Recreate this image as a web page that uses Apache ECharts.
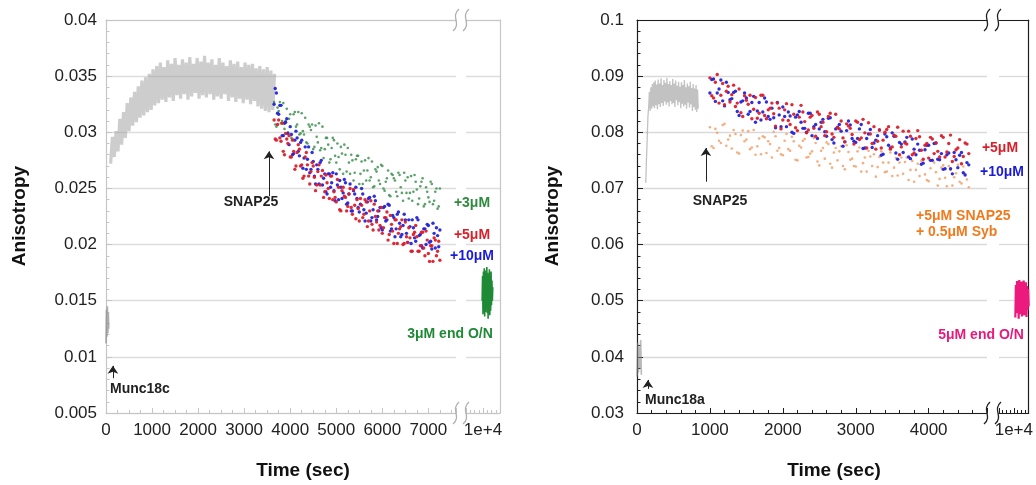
<!DOCTYPE html>
<html>
<head>
<meta charset="utf-8">
<script src="https://cdn.jsdelivr.net/npm/echarts@6/dist/echarts.min.js"></script>
<style>
html,body{margin:0;padding:0;background:#fff;}
#c{width:1036px;height:485px;}
</style>
</head>
<body>
<div id="c"></div>
<script>
// ---------------- DATA ----------------
// Left panel (Munc18c)
const tMuncL = [0,10,20,30,40,50,60];
const vMuncL = [0.0112,0.0142,0.0118,0.0145,0.0121,0.0139,0.0125];

const tGrayL = [100,140,180,220,260,300,340,380,420,460,500,540,580,620,660,700,740,780,820,860,900,940,980,1020,1060,1100,1140,1180,1220,1260,1300,1340,1380,1420,1460,1500,1540,1580,1620,1660,1700,1740,1780,1820,1860,1900,1940,1980,2020,2060,2100,2140,2180,2220,2260,2300,2340,2380,2420,2460,2500,2540,2580,2620,2660,2700,2740,2780,2820,2860,2900,2940,2980,3020,3060,3100,3140,3180,3220,3260,3300,3340,3380,3420,3460,3500,3540,3580,3620,3660];
const vGrayL = [0.0272,0.0296,0.0278,0.0301,0.0283,0.0312,0.0289,0.0318,0.0295,0.0326,
0.0301,0.0331,0.0306,0.0336,0.0309,0.0341,0.0313,0.0346,0.0315,0.0349,
0.0318,0.0352,0.0320,0.0356,0.0324,0.0359,0.0326,0.0362,0.0329,0.0358,
0.0327,0.0364,0.0331,0.0361,0.0328,0.0366,0.0333,0.0360,0.0330,0.0365,
0.0334,0.0362,0.0329,0.0367,0.0332,0.0361,0.0335,0.0366,0.0330,0.0363,
0.0333,0.0368,0.0331,0.0362,0.0334,0.0365,0.0329,0.0360,0.0332,0.0366,
0.0330,0.0362,0.0334,0.0359,0.0328,0.0364,0.0331,0.0361,0.0327,0.0363,
0.0330,0.0358,0.0326,0.0362,0.0329,0.0360,0.0325,0.0361,0.0328,0.0357,
0.0323,0.0359,0.0321,0.0356,0.0319,0.0358,0.0318,0.0355,0.0320,0.0352];

const tScatL = [3650,3700,3750,3800,3850,3900,3950,4000,4050,4100,4150,4200,4250,4300,4350,4400,4450,4500,4550,4600,4650,4700,4750,4800,4850,4900,4950,5000,5050,5100,5150,5200,5250,5300,5350,5400,5450,5500,5550,5600,5650,5700,5750,5800,5850,5900,5950,6000,6050,6100,6150,6200,6250,6300,6350,6400,6450,6500,6550,6600,6650,6700,6750,6800,6850,6900,6950,7000,7050,7100,7150,7200,7250];
const tScatL2 = [3675,3725,3775,3825,3875,3925,3975,4025,4075,4125,4175,4225,4275,4325,4375,4425,4475,4525,4575,4625,4675,4725,4775,4825,4875,4925,4975,5025,5075,5125,5175,5225,5275,5325,5375,5425,5475,5525,5575,5625,5675,5725,5775,5825,5875,5925,5975,6025,6075,6125,6175,6225,6275,6325,6375,6425,6475,6525,6575,6625,6675,6725,6775,6825,6875,6925,6975,7025,7075,7125,7175,7225];
const red5L = [0.0311,0.0293,0.0311,0.0292,0.0283,0.0299,0.0290,0.0278,0.0293,0.0267,
0.0282,0.0285,0.0271,0.0261,0.0282,0.0261,0.0265,0.0270,0.0248,0.0265,
0.0253,0.0266,0.0247,0.0255,0.0241,0.0261,0.0247,0.0238,0.0251,0.0230,
0.0251,0.0242,0.0234,0.0250,0.0227,0.0235,0.0240,0.0221,0.0235,0.0227,
0.0238,0.0221,0.0239,0.0213,0.0225,0.0230,0.0217,0.0210,0.0224,0.0229,
0.0209,0.0218,0.0201,0.0222,0.0210,0.0216,0.0200,0.0220,0.0202,0.0206,
0.0194,0.0211,0.0207,0.0194,0.0211,0.0197,0.0212,0.0192,0.0199,0.0185,
0.0204,0.0194,0.0186];
const red5L_b = [0.0294,0.0307,0.0295,0.0308,0.0280,0.0294,0.0297,0.0278,0.0283,0.0270,
0.0289,0.0270,0.0259,0.0278,0.0271,0.0254,0.0273,0.0260,0.0253,0.0271,
0.0261,0.0242,0.0262,0.0250,0.0261,0.0240,0.0242,0.0258,0.0231,0.0248,
0.0243,0.0230,0.0245,0.0233,0.0249,0.0223,0.0232,0.0241,0.0224,0.0240,
0.0216,0.0230,0.0218,0.0236,0.0220,0.0213,0.0233,0.0215,0.0224,0.0204,
0.0226,0.0212,0.0222,0.0201,0.0214,0.0222,0.0201,0.0207,0.0215,0.0194,
0.0209,0.0217,0.0194,0.0199,0.0211,0.0190,0.0204,0.0185,0.0199,0.0206,
0.0190,0.0203];
const blue10L = [0.0325,0.0335,0.0316,0.0324,0.0297,0.0309,0.0299,0.0305,0.0280,0.0293,
0.0295,0.0279,0.0293,0.0277,0.0267,0.0287,0.0267,0.0274,0.0254,0.0267,
0.0273,0.0253,0.0263,0.0245,0.0263,0.0255,0.0248,0.0263,0.0240,0.0251,
0.0246,0.0255,0.0237,0.0254,0.0230,0.0245,0.0241,0.0229,0.0250,0.0231,
0.0228,0.0241,0.0221,0.0231,0.0239,0.0225,0.0233,0.0213,0.0234,0.0222,
0.0235,0.0214,0.0224,0.0214,0.0229,0.0207,0.0217,0.0222,0.0202,0.0216,
0.0222,0.0206,0.0224,0.0208,0.0199,0.0214,0.0200,0.0217,0.0203,0.0219,
0.0197,0.0208,0.0213];
const blue10L_b = [0.0339,0.0317,0.0324,0.0297,0.0308,0.0312,0.0289,0.0298,0.0281,0.0301,
0.0283,0.0291,0.0268,0.0287,0.0276,0.0264,0.0282,0.0261,0.0271,0.0254,
0.0275,0.0259,0.0247,0.0263,0.0251,0.0264,0.0239,0.0253,0.0257,0.0241,
0.0258,0.0236,0.0245,0.0230,0.0248,0.0251,0.0233,0.0236,0.0245,0.0221,
0.0238,0.0242,0.0224,0.0243,0.0222,0.0230,0.0215,0.0233,0.0221,0.0236,
0.0212,0.0226,0.0207,0.0227,0.0219,0.0209,0.0227,0.0210,0.0222,0.0201,
0.0215,0.0203,0.0222,0.0209,0.0197,0.0214,0.0218,0.0202,0.0196,0.0210,
0.0215,0.0198];
const green3L = [0.0327,0.0305,0.0319,0.0308,0.0326,0.0310,0.0300,0.0316,0.0294,0.0318,
0.0307,0.0298,0.0317,0.0298,0.0291,0.0307,0.0302,0.0285,0.0306,0.0291,
0.0284,0.0305,0.0285,0.0295,0.0273,0.0286,0.0293,0.0273,0.0278,0.0287,
0.0263,0.0280,0.0286,0.0263,0.0275,0.0264,0.0279,0.0254,0.0274,0.0266,
0.0257,0.0277,0.0260,0.0251,0.0267,0.0269,0.0254,0.0270,0.0248,0.0259,
0.0244,0.0263,0.0259,0.0247,0.0264,0.0251,0.0239,0.0257,0.0260,0.0246,
0.0239,0.0262,0.0249,0.0241,0.0256,0.0234,0.0251,0.0242,0.0256,0.0236,
0.0247,0.0232,0.0250];
const green3L_b = [0.0307,0.0322,0.0327,0.0310,0.0303,0.0321,0.0312,0.0295,0.0316,0.0305,
0.0318,0.0299,0.0301,0.0313,0.0290,0.0305,0.0307,0.0287,0.0296,0.0308,
0.0286,0.0277,0.0295,0.0289,0.0276,0.0295,0.0279,0.0290,0.0267,0.0281,
0.0289,0.0265,0.0273,0.0280,0.0257,0.0276,0.0279,0.0263,0.0254,0.0275,
0.0266,0.0257,0.0274,0.0252,0.0265,0.0257,0.0271,0.0250,0.0256,0.0266,
0.0243,0.0262,0.0257,0.0243,0.0262,0.0246,0.0264,0.0246,0.0241,0.0261,
0.0247,0.0256,0.0236,0.0252,0.0259,0.0236,0.0247,0.0238,0.0254,0.0239,
0.0250,0.0234];

const tBlobL = [9980,9990,10000,10010,10020,10030,10040,10050,10060,10070,10080,10090,10100,10110,10120,10130,10140,10150,10160,10170,10180,10190,10200,10210,10220,10230];
const vBlobL = [0.0150,0.0172,0.0138,0.0176,0.0142,0.0179,0.0136,0.0174,0.0140,0.0177,0.0145,0.0180,0.0139,0.0175,0.0134,0.0173,0.0143,0.0178,0.0137,0.0171,0.0141,0.0176,0.0146,0.0168,0.0150,0.0162];

// Right panel (Munc18a)
const tMuncR = [0,10,20,30,40,50,60];
const vMuncR = [0.0365,0.0425,0.0372,0.0418,0.0380,0.0430,0.0368];

const tGrayR = [120,130,140,150,160,170,180,190,200,210,220,230,240,250,260,270,280,290,300,310,320,330,340,350,360,370,380,390,400,410,420,430,440,450,460,470,480,490,500,510,520,530,540,550,560,570,580,590,600,610,620,630,640,650,660,670,680,690,700,710,720,730,740,750,760,770,780,790,800,810,820,830,840];
const vGrayR = [0.0710,0.0752,0.0790,0.0828,0.0845,0.0872,0.0838,0.0880,0.0842,0.0886,
0.0846,0.0889,0.0843,0.0892,0.0848,0.0885,0.0841,0.0894,0.0850,0.0887,
0.0845,0.0896,0.0852,0.0884,0.0847,0.0893,0.0855,0.0888,0.0849,0.0897,
0.0853,0.0886,0.0846,0.0891,0.0856,0.0884,0.0850,0.0895,0.0852,0.0887,
0.0845,0.0892,0.0857,0.0883,0.0848,0.0890,0.0854,0.0881,0.0843,0.0889,
0.0851,0.0884,0.0846,0.0893,0.0849,0.0880,0.0842,0.0887,0.0853,0.0882,
0.0844,0.0890,0.0850,0.0879,0.0838,0.0886,0.0845,0.0878,0.0840,0.0884,
0.0836,0.0876,0.0842];

const tScatR = [1000,1050,1100,1150,1200,1250,1300,1350,1400,1450,1500,1550,1600,1650,1700,1750,1800,1850,1900,1950,2000,2050,2100,2150,2200,2250,2300,2350,2400,2450,2500,2550,2600,2650,2700,2750,2800,2850,2900,2950,3000,3050,3100,3150,3200,3250,3300,3350,3400,3450,3500,3550,3600,3650,3700,3750,3800,3850,3900,3950,4000,4050,4100,4150,4200,4250,4300,4350,4400,4450,4500,4550];
const tScatR2 = [1025,1075,1125,1175,1225,1275,1325,1375,1425,1475,1525,1575,1625,1675,1725,1775,1825,1875,1925,1975,2025,2075,2125,2175,2225,2275,2325,2375,2425,2475,2525,2575,2625,2675,2725,2775,2825,2875,2925,2975,3025,3075,3125,3175,3225,3275,3325,3375,3425,3475,3525,3575,3625,3675,3725,3775,3825,3875,3925,3975,4025,4075,4125,4175,4225,4275,4325,4375,4425,4475,4525];
const red5R = [0.0897,0.0861,0.0903,0.0866,0.0849,0.0882,0.0867,0.0846,0.0877,0.0828,
0.0857,0.0866,0.0841,0.0825,0.0866,0.0830,0.0840,0.0852,0.0811,0.0843,
0.0822,0.0851,0.0814,0.0832,0.0803,0.0848,0.0819,0.0804,0.0830,0.0793,
0.0832,0.0818,0.0801,0.0834,0.0791,0.0808,0.0820,0.0783,0.0811,0.0796,
0.0820,0.0787,0.0823,0.0772,0.0797,0.0810,0.0784,0.0772,0.0800,0.0810,
0.0774,0.0793,0.0760,0.0802,0.0779,0.0793,0.0763,0.0803,0.0768,0.0777,
0.0754,0.0788,0.0781,0.0756,0.0791,0.0765,0.0795,0.0757,0.0772,0.0744,
0.0781,0.0762];
const red5R_b = [0.0865,0.0889,0.0852,0.0887,0.0873,0.0854,0.0884,0.0852,0.0835,0.0865,
0.0850,0.0824,0.0862,0.0834,0.0866,0.0824,0.0843,0.0833,0.0852,0.0806,
0.0840,0.0821,0.0849,0.0808,0.0827,0.0836,0.0799,0.0827,0.0807,0.0836,
0.0810,0.0794,0.0828,0.0797,0.0832,0.0806,0.0790,0.0815,0.0807,0.0779,
0.0818,0.0790,0.0799,0.0817,0.0780,0.0770,0.0804,0.0786,0.0805,0.0770,
0.0795,0.0809,0.0774,0.0781,0.0802,0.0760,0.0789,0.0792,0.0752,0.0780,
0.0791,0.0762,0.0766,0.0794,0.0756,0.0780,0.0748,0.0769,0.0787,0.0757,
0.0779];
const blue10R = [0.0870,0.0895,0.0870,0.0893,0.0847,0.0871,0.0860,0.0873,0.0830,0.0856,
0.0861,0.0837,0.0864,0.0838,0.0822,0.0861,0.0828,0.0843,0.0808,0.0831,
0.0845,0.0810,0.0829,0.0798,0.0831,0.0818,0.0807,0.0834,0.0794,0.0814,
0.0806,0.0823,0.0793,0.0826,0.0781,0.0809,0.0802,0.0783,0.0820,0.0789,
0.0782,0.0806,0.0771,0.0789,0.0805,0.0781,0.0794,0.0759,0.0797,0.0777,
0.0799,0.0763,0.0782,0.0764,0.0791,0.0753,0.0770,0.0779,0.0743,0.0769,
0.0777,0.0750,0.0781,0.0751,0.0734,0.0760,0.0735,0.0764,0.0737,0.0764,
0.0724,0.0742];
const blue10R_b = [0.0894,0.0855,0.0877,0.0856,0.0889,0.0858,0.0871,0.0837,0.0854,0.0870,
0.0832,0.0853,0.0818,0.0853,0.0836,0.0854,0.0823,0.0826,0.0853,0.0810,
0.0828,0.0836,0.0800,0.0827,0.0837,0.0807,0.0800,0.0834,0.0810,0.0789,
0.0818,0.0801,0.0825,0.0787,0.0806,0.0814,0.0775,0.0803,0.0813,0.0784,
0.0789,0.0814,0.0772,0.0797,0.0773,0.0786,0.0804,0.0761,0.0792,0.0772,
0.0793,0.0752,0.0779,0.0783,0.0756,0.0788,0.0760,0.0768,0.0745,0.0777,
0.0750,0.0780,0.0752,0.0762,0.0735,0.0763,0.0726,0.0751,0.0759,0.0728,
0.0746];
const orangeSybR = [0.0809,0.0772,0.0799,0.0781,0.0815,0.0787,0.0771,0.0797,0.0762,0.0803,
0.0787,0.0770,0.0804,0.0775,0.0761,0.0791,0.0784,0.0755,0.0793,0.0772,
0.0759,0.0797,0.0767,0.0784,0.0750,0.0773,0.0788,0.0756,0.0766,0.0781,
0.0741,0.0772,0.0782,0.0744,0.0764,0.0750,0.0775,0.0734,0.0765,0.0753,
0.0739,0.0773,0.0745,0.0730,0.0757,0.0761,0.0738,0.0766,0.0729,0.0746,
0.0722,0.0754,0.0746,0.0726,0.0755,0.0733,0.0712,0.0744,0.0749,0.0725,
0.0713,0.0751,0.0729,0.0717,0.0741,0.0704,0.0733,0.0720,0.0742,0.0709,
0.0726,0.0702];
const orangeSybR_b = [0.0775,0.0806,0.0785,0.0813,0.0776,0.0794,0.0804,0.0764,0.0795,0.0784,
0.0802,0.0773,0.0760,0.0789,0.0793,0.0763,0.0779,0.0801,0.0767,0.0761,
0.0785,0.0770,0.0792,0.0751,0.0776,0.0785,0.0755,0.0762,0.0790,0.0748,
0.0767,0.0753,0.0779,0.0737,0.0772,0.0766,0.0740,0.0777,0.0751,0.0740,
0.0766,0.0730,0.0755,0.0767,0.0740,0.0721,0.0756,0.0746,0.0730,0.0764,
0.0737,0.0723,0.0755,0.0747,0.0715,0.0749,0.0733,0.0722,0.0752,0.0715,
0.0736,0.0746,0.0705,0.0737,0.0719,0.0740,0.0705,0.0727,0.0712,0.0739,
0.0716];

const tBlobR = [10040,10055,10070,10085,10100,10115,10130,10145,10160,10175,10190,10205,10220,10235,10250,10265,10280,10295,10310,10325,10340,10355,10370,10385,10400];
const vBlobR = [0.0470,0.0528,0.0478,0.0535,0.0482,0.0531,0.0468,0.0537,0.0476,0.0529,0.0480,0.0534,0.0472,0.0530,0.0485,0.0536,0.0474,0.0527,0.0479,0.0533,0.0471,0.0526,0.0483,0.0521,0.0490];

// Arrow annotations (time, from, to)
const arrowsL = [[3540, 0.0243, 0.0283], [150, 0.0081, 0.0092]];
const arrowsR = [[945, 0.0712, 0.0772], [150, 0.0343, 0.0359]];

// ---------------- CHART ----------------
const FONT = "'Liberation Sans', Arial, Helvetica, sans-serif";
const LCOL = '#c6c6c6', LSPL = '#dddddd';
const RCOL = '#1e1e1e', RSPL = '#d9d9d9';
const TOP = 20, H = 393;
const G = [
  {left:106, top:TOP, width:350, height:H},
  {left:466, top:TOP, width:34, height:H},
  {left:637, top:TOP, width:350, height:H},
  {left:999, top:TOP, width:31, height:H}
];

function xBottom(gi, min, max, interval, minorSplit, col, fmt) {
  return {
    type:'value', gridIndex:gi, position:'bottom', min, max, interval,
    axisLine:{show:true, onZero:false, lineStyle:{color:col, width:1.2}},
    axisTick:{show:true, inside:true, length:5, lineStyle:{color:col}},
    minorTick:{show:true, splitNumber:minorSplit, length:3, lineStyle:{color:col}},
    axisLabel:{show:true, margin:9, fontSize:17, color:'#222', fontFamily:FONT,
      showMaxLabel:false, showMinLabel: fmt ? false : true,
      formatter: fmt || (v => String(v))},
    splitLine:{show:false}
  };
}
function xTop(gi, min, max, col) {
  return {type:'value', gridIndex:gi, position:'top', min, max,
    axisLine:{show:true, onZero:false, lineStyle:{color:col, width:1.2}},
    axisTick:{show:false}, axisLabel:{show:false}, splitLine:{show:false}};
}
function yLeft(gi, min, max, interval, col, spl, margin) {
  return {type:'value', gridIndex:gi, position:'left', min, max, interval,
    axisLine:{show:true, onZero:false, lineStyle:{color:col, width:1.2}},
    axisTick:{show:true, inside:true, length:6, lineStyle:{color:col}},
    minorTick:{show:true, splitNumber:5, length:3.5, lineStyle:{color:col}},
    axisLabel:{show:true, margin, fontSize:17, color:'#222', fontFamily:FONT},
    splitLine:{show:true, lineStyle:{color:spl, width:1.3}}};
}
function yRight(gi, min, max, interval, col, spl) {
  return {type:'value', gridIndex:gi, position:'right', min, max, interval,
    axisLine:{show:true, onZero:false, lineStyle:{color:col, width:1.2}},
    axisTick:{show:false}, axisLabel:{show:false},
    splitLine:{show:true, lineStyle:{color:spl, width:1.3}}};
}
const fmtE = v => (v === 10000 ? '1e+4' : '');

const pairs = (ts, vs) => ts.map((t, i) => [t, vs[i]]);
function sLine(xi, yi, ts, vs, color, width, opacity, extra) {
  return Object.assign({type:'line', xAxisIndex:xi, yAxisIndex:yi, data:pairs(ts, vs),
    showSymbol:false, symbol:'none', silent:true, z:2,
    lineStyle:{color, width, opacity}}, extra || {});
}
function sScat(xi, yi, ts, vs, color, size, opacity) {
  return {type:'scatter', xAxisIndex:xi, yAxisIndex:yi, data:pairs(ts, vs), silent:true, z:3,
    symbolSize:size, itemStyle:{color, opacity}};
}
function arrowMark(list) {
  return {markLine:{silent:true, symbol:['none','arrow'], symbolSize:8, animation:false,
    lineStyle:{color:'#222', width:1, type:'solid', opacity:1}, label:{show:false},
    data:list.map(a => [{coord:[a[0], a[1]]}, {coord:[a[0], a[2]]}])}};
}

function txt(x, y, text, color, align, size, rot) {
  return {type:'text', x, y, rotation: rot || 0, silent:true, z:100,
    style:{text, fill:color, fontSize:size || 14, fontWeight:'bold', fontFamily:FONT,
      align: align || 'center', verticalAlign:'middle'}};
}
function brk(x, y, col) {
  return {type:'bezierCurve', silent:true, z:100,
    shape:{x1:x+3, y1:y-11, x2:x-3, y2:y+11, cpx1:x-6, cpy1:y-3, cpx2:x+6, cpy2:y+3},
    style:{stroke:col, lineWidth:1.3, fill:null}};
}

const option = {
  animation:false,
  backgroundColor:'#ffffff',
  grid:G,
  xAxis:[
    xBottom(0, 0, 7600, 1000, 4, LCOL), xTop(0, 0, 7600, LCOL),
    xBottom(1, 9600, 10400, 400, 4, LCOL, fmtE), xTop(1, 9600, 10400, LCOL),
    xBottom(2, 0, 4800, 1000, 5, RCOL), xTop(2, 0, 4800, RCOL),
    xBottom(3, 9600, 10400, 400, 4, RCOL, fmtE), xTop(3, 9600, 10400, RCOL)
  ],
  yAxis:[
    yLeft(0, 0.005, 0.04, 0.005, LCOL, LSPL, 9),
    yRight(1, 0.005, 0.04, 0.005, LCOL, LSPL),
    yLeft(2, 0.03, 0.1, 0.01, RCOL, RSPL, 13),
    yRight(3, 0.03, 0.1, 0.01, RCOL, RSPL)
  ],
  series:[
    sLine(0, 0, tMuncL, vMuncL, '#8a8a8a', 1.6, 0.7),
    sLine(0, 0, tGrayL, vGrayL, '#9c9c9c', 3.2, 0.5, arrowMark(arrowsL)),
    sScat(0, 0, tScatL, green3L, '#3f8f52', 2.6, 0.85),
    sScat(0, 0, tScatL2, green3L_b, '#3f8f52', 2.6, 0.85),
    sScat(0, 0, tScatL, blue10L, '#2424d8', 3.4, 0.95),
    sScat(0, 0, tScatL2, blue10L_b, '#2424d8', 3.4, 0.95),
    sScat(0, 0, tScatL, red5L, '#dc1f2a', 3.4, 0.95),
    sScat(0, 0, tScatL2, red5L_b, '#dc1f2a', 3.4, 0.95),
    sLine(2, 1, tBlobL, vBlobL, '#1f8a35', 1.6, 1),

    sLine(4, 2, tMuncR, vMuncR, '#8a8a8a', 1.6, 0.6),
    sLine(4, 2, tGrayR, vGrayR, '#999999', 1.3, 0.6, arrowMark(arrowsR)),
    sScat(4, 2, tScatR, orangeSybR, '#f2a068', 2.6, 0.85),
    sScat(4, 2, tScatR2, orangeSybR_b, '#f2a068', 2.6, 0.85),
    sScat(4, 2, tScatR, blue10R, '#2424d8', 3.4, 0.95),
    sScat(4, 2, tScatR2, blue10R_b, '#2424d8', 3.4, 0.95),
    sScat(4, 2, tScatR, red5R, '#dc1f2a', 3.4, 0.95),
    sScat(4, 2, tScatR2, red5R_b, '#dc1f2a', 3.4, 0.95),
    sLine(6, 3, tBlobR, vBlobR, '#ec1a7c', 2.2, 1)
  ],
  graphic:[
    txt(20, 216, 'Anisotropy', '#111', 'center', 19, Math.PI/2),
    txt(553, 216, 'Anisotropy', '#111', 'center', 19, Math.PI/2),
    txt(303, 471, 'Time (sec)', '#111', 'center', 19),
    txt(834, 471, 'Time (sec)', '#111', 'center', 19),

    txt(251, 202, 'SNAP25', '#222', 'center'),
    txt(110, 389, 'Munc18c', '#222', 'left'),
    txt(472, 203, '+3μM', '#2e8b3e', 'center'),
    txt(472, 235, '+5μM', '#d8202a', 'center'),
    txt(472, 256, '+10μM', '#1a1adb', 'center'),
    txt(450, 334, '3μM end O/N', '#1f8a35', 'center'),

    txt(720, 201, 'SNAP25', '#222', 'center'),
    txt(645, 400, 'Munc18a', '#222', 'left'),
    txt(1000, 148, '+5μM', '#d8202a', 'center'),
    txt(1002, 172, '+10μM', '#1a1adb', 'center'),
    txt(916, 216, '+5μM SNAP25', '#f07a1e', 'left'),
    txt(916, 232, '+ 0.5μM Syb', '#f07a1e', 'left'),
    txt(981, 335, '5μM end O/N', '#e8197c', 'center'),

    brk(456, TOP, '#b0b0b0'), brk(466, TOP, '#b0b0b0'),
    brk(456, TOP + H, '#b0b0b0'), brk(466, TOP + H, '#b0b0b0'),
    brk(987, TOP, '#222'), brk(998, TOP, '#222'),
    brk(987, TOP + H, '#222'), brk(998, TOP + H, '#222')
  ]
};

const chart = echarts.init(document.getElementById('c'), null, {renderer:'canvas'});
chart.setOption(option);
</script>
</body>
</html>
